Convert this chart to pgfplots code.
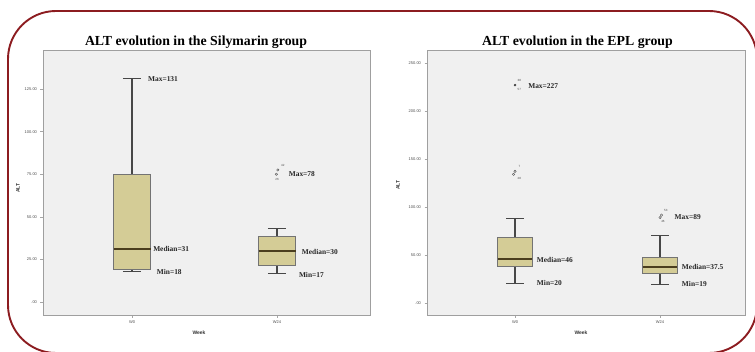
\documentclass[border=0pt]{standalone}
\usepackage{fontspec}
\setmainfont{Liberation Serif}
\newfontfamily\arialf{Liberation Sans}
\usepackage{pgfplots}
\pgfplotsset{compat=1.18}
\definecolor{framered}{RGB}{140,28,32}
\definecolor{boxfill}{RGB}{212,204,150}
\definecolor{bggray}{RGB}{240,240,240}
\definecolor{medcol}{RGB}{75,62,30}
\pgfplotsset{
 spssaxis/.style={
  scale only axis, height=265pt,
  axis background/.style={fill=bggray},
  axis line style={draw=gray!75, line width=0.8pt},
  tick align=outside, xtick pos=bottom, ytick pos=left,
  major tick length=2.5pt,
  tick style={draw=gray!70, line width=0.5pt},
  xtick={1,2}, xticklabels={W0,W24},
  tick label style={font=\arialf\fontsize{4}{4}\selectfont, text=gray!60!black},
  clip=false,
 },
 spssbox/.style={fill=boxfill, draw=black!55, line width=0.7pt},
 whisk/.style={draw=black!72, line width=1.1pt},
 med/.style={draw=medcol, line width=1.6pt},
}
\tikzset{
 annot/.style={anchor=west, font=\bfseries\fontsize{7.4}{8}\selectfont, text=black!85, inner sep=0pt},
 caseno/.style={font=\arialf\fontsize{3}{3}\selectfont, text=black!70, inner sep=0pt},
}
\begin{document}
\begin{tikzpicture}
\path[use as bounding box] (0pt,0pt) rectangle (755pt,351pt);
\begin{scope}
\clip (0pt,0pt) rectangle (755pt,351pt);
\draw[framered, line width=1.9pt, rounded corners=48pt] (8pt,-2pt) rectangle (757pt,340pt);
\end{scope}

% Left axis
\begin{axis}[spssaxis, at={(43pt,36pt)}, anchor=south west, width=327pt,
  xmin=0.386, xmax=2.641, ymin=-7.6, ymax=147.9,
  ytick={0,25,50,75,100,125}, yticklabels={.00,25.00,50.00,75.00,100.00,125.00}]
% W0: min 18, Q1 19.4, median 31, Q3 75, max 131
\addplot[whisk] coordinates {(1,75) (1,131)};
\addplot[whisk] coordinates {(0.936,131) (1.064,131)};
\addplot[whisk] coordinates {(1,19.4) (1,18)};
\addplot[whisk] coordinates {(0.936,18) (1.064,18)};
\addplot[spssbox] coordinates {(0.8725,19.4) (1.1275,19.4) (1.1275,75) (0.8725,75)} -- cycle;
\addplot[med] coordinates {(0.8725,31) (1.1275,31)};
% W24: min 17, Q1 21.7, median 30, Q3 38.5, max 43
\addplot[whisk] coordinates {(2,38.5) (2,43)};
\addplot[whisk] coordinates {(1.936,43) (2.064,43)};
\addplot[whisk] coordinates {(2,21.7) (2,17)};
\addplot[whisk] coordinates {(1.936,17) (2.064,17)};
\addplot[spssbox] coordinates {(1.8725,21.7) (2.1275,21.7) (2.1275,38.5) (1.8725,38.5)} -- cycle;
\addplot[med] coordinates {(1.8725,30) (2.1275,30)};
\addplot[only marks, mark=o, mark size=1.2pt, draw=black!70, line width=0.4pt] coordinates {(1.995,75) (2.005,77.5)};
\node[caseno] at (axis cs:2.04,80) {42};
\node[caseno] at (axis cs:2.0,72) {26};
\node[annot] at (axis cs:1.11,131) {Max=131};
\node[annot] at (axis cs:1.145,31) {Median=31};
\node[annot] at (axis cs:1.17,17.5) {Min=18};
\node[annot] at (axis cs:2.08,75) {Max=78};
\node[annot] at (axis cs:2.17,29.5) {Median=30};
\node[annot] at (axis cs:2.15,16) {Min=17};
\end{axis}

% Right axis
\begin{axis}[spssaxis, at={(427pt,36pt)}, anchor=south west, width=318pt,
  xmin=0.393, xmax=2.586, ymin=-12.5, ymax=263.5,
  ytick={0,50,100,150,200,250}, yticklabels={.00,50.00,100.00,150.00,200.00,250.00}]
% W0: min 20, Q1 38.5, median 46, Q3 68.5, max 88
\addplot[whisk] coordinates {(1,68.5) (1,88)};
\addplot[whisk] coordinates {(0.94,88) (1.06,88)};
\addplot[whisk] coordinates {(1,38.5) (1,20)};
\addplot[whisk] coordinates {(0.94,20) (1.06,20)};
\addplot[spssbox] coordinates {(0.88,38.5) (1.12,38.5) (1.12,68.5) (0.88,68.5)} -- cycle;
\addplot[med] coordinates {(0.88,46) (1.12,46)};
% W24: min 19.5, Q1 30.5, median 37.5, Q3 48, max 70
\addplot[whisk] coordinates {(2,48) (2,70)};
\addplot[whisk] coordinates {(1.94,70) (2.06,70)};
\addplot[whisk] coordinates {(2,30.5) (2,19.5)};
\addplot[whisk] coordinates {(1.94,19.5) (2.06,19.5)};
\addplot[spssbox] coordinates {(1.88,30.5) (2.12,30.5) (2.12,48) (1.88,48)} -- cycle;
\addplot[med] coordinates {(1.88,37.5) (2.12,37.5)};
\addplot[only marks, mark=*, mark size=1.0pt, draw=black!75, fill=black!75] coordinates {(1,227)};
\addplot[only marks, mark=o, mark size=1.2pt, draw=black!70, line width=0.4pt] coordinates {(0.99,134) (1.0,137) (2.0,89) (2.01,91.5)};
\node[caseno] at (axis cs:1.03,232) {38};
\node[caseno] at (axis cs:1.03,222) {57};
\node[caseno] at (axis cs:1.03,142) {7};
\node[caseno] at (axis cs:1.03,130) {28};
\node[caseno] at (axis cs:2.04,96) {53};
\node[caseno] at (axis cs:2.02,85) {46};
\node[annot] at (axis cs:1.09,226) {Max=227};
\node[annot] at (axis cs:1.15,45) {Median=46};
\node[annot] at (axis cs:1.15,21) {Min=20};
\node[annot] at (axis cs:2.1,89) {Max=89};
\node[annot] at (axis cs:2.15,37.5) {Median=37.5};
\node[annot] at (axis cs:2.15,19.5) {Min=19};
\end{axis}

% titles and labels
\node[font=\bfseries\fontsize{13.8}{15}\selectfont] at (196pt,309pt) {ALT evolution in the Silymarin group};
\node[font=\bfseries\fontsize{13.8}{15}\selectfont] at (577.5pt,309pt) {ALT evolution in the EPL group};
\node[rotate=90, font=\arialf\bfseries\fontsize{5}{5}\selectfont, text=black!80] at (18pt,163pt) {ALT};
\node[rotate=90, font=\arialf\bfseries\fontsize{5}{5}\selectfont, text=black!80] at (398pt,166pt) {ALT};
\node[font=\arialf\bfseries\fontsize{5}{5}\selectfont, text=black!80] at (199pt,18pt) {Week};
\node[font=\arialf\bfseries\fontsize{5}{5}\selectfont, text=black!80] at (581pt,18pt) {Week};
\end{tikzpicture}
\end{document}
